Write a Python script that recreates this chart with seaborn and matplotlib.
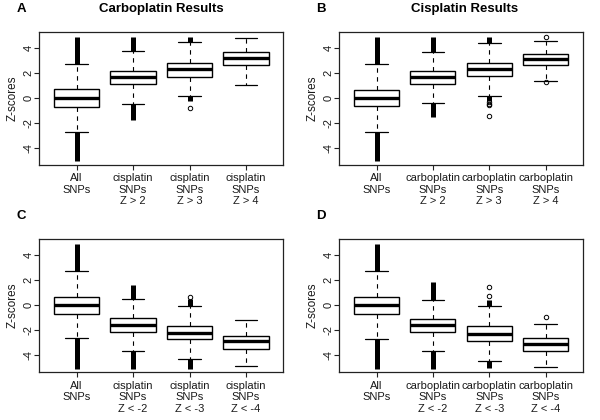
import numpy as np
import matplotlib
matplotlib.use("Agg")
import matplotlib.pyplot as plt
import seaborn as sns

# ---------------- data ----------------
labels_A = ["All\nSNPs", "cisplatin\nSNPs\nZ > 2", "cisplatin\nSNPs\nZ > 3", "cisplatin\nSNPs\nZ > 4"]
labels_B = ["All\nSNPs", "carboplatin\nSNPs\nZ > 2", "carboplatin\nSNPs\nZ > 3", "carboplatin\nSNPs\nZ > 4"]
labels_C = ["All\nSNPs", "cisplatin\nSNPs\nZ < -2", "cisplatin\nSNPs\nZ < -3", "cisplatin\nSNPs\nZ < -4"]
labels_D = ["All\nSNPs", "carboplatin\nSNPs\nZ < -2", "carboplatin\nSNPs\nZ < -3", "carboplatin\nSNPs\nZ < -4"]

q1_A = [-0.72, 1.07, 1.67, 2.58]
med_A = [0.00, 1.63, 2.26, 3.19]
q3_A = [0.67, 2.15, 2.79, 3.62]
wlo_A = [-2.71, -0.48, 0.11, 1.01]
whi_A = [2.66, 3.72, 4.46, 4.78]
dense_hi_A = [4.86, 4.86, 4.84, np.nan]
dense_lo_A = [-5.10, -1.78, -0.30, np.nan]
fliers_A = [[], [], [-0.85], []]

q1_B = [-0.67, 1.09, 1.73, 2.61]
med_B = [0.00, 1.63, 2.29, 3.07]
q3_B = [0.64, 2.10, 2.75, 3.47]
wlo_B = [-2.72, -0.45, 0.16, 1.33]
whi_B = [2.66, 3.68, 4.34, 4.56]
dense_hi_B = [4.86, 4.86, 4.85, np.nan]
dense_lo_B = [-5.10, -1.57, -0.25, np.nan]
fliers_B = [[], [], [-0.38, -0.50, -0.60, -1.50], [4.82, 1.25]]

q1_C = [-0.69, -2.14, -2.75, -3.47]
med_C = [0.00, -1.59, -2.22, -2.91]
q3_C = [0.66, -1.06, -1.67, -2.46]
wlo_C = [-2.67, -3.68, -4.32, -4.90]
whi_C = [2.70, 0.50, -0.11, -1.17]
dense_hi_C = [4.85, 1.59, 0.45, np.nan]
dense_lo_C = [-5.10, -5.10, -5.08, np.nan]
fliers_C = [[], [], [0.60], []]

q1_D = [-0.69, -2.15, -2.84, -3.67]
med_D = [0.00, -1.64, -2.28, -3.13]
q3_D = [0.64, -1.14, -1.72, -2.66]
wlo_D = [-2.71, -3.69, -4.46, -4.95]
whi_D = [2.69, 0.40, -0.10, -1.51]
dense_hi_D = [4.85, 1.80, 0.37, np.nan]
dense_lo_D = [-5.10, -5.10, -5.05, np.nan]
fliers_D = [[], [], [0.69, 1.43], [-0.93]]

yticks = [-4, -2, 0, 2, 4]
titles = {"A": "Carboplatin Results", "B": "Cisplatin Results", "C": "", "D": ""}

# ---------------- style ----------------
sns.set_theme(style="ticks")
plt.rcParams['font.family'] = ['Liberation Sans', 'DejaVu Sans']
plt.rcParams['axes.edgecolor'] = '#222222'
plt.rcParams['axes.linewidth'] = 0.9

fig = plt.figure(figsize=(6.0, 4.2), dpi=100)

panels = [
    ("A", labels_A, q1_A, med_A, q3_A, wlo_A, whi_A, dense_hi_A, dense_lo_A, fliers_A, [0.0655, 0.608, 0.4067, 0.315]),
    ("B", labels_B, q1_B, med_B, q3_B, wlo_B, whi_B, dense_hi_B, dense_lo_B, fliers_B, [0.5655, 0.608, 0.406, 0.315]),
    ("C", labels_C, q1_C, med_C, q3_C, wlo_C, whi_C, dense_hi_C, dense_lo_C, fliers_C, [0.0655, 0.1136, 0.4067, 0.317]),
    ("D", labels_D, q1_D, med_D, q3_D, wlo_D, whi_D, dense_hi_D, dense_lo_D, fliers_D, [0.5655, 0.1136, 0.406, 0.317]),
]

txt = '#1a1a1a'
for name, labs, q1, med, q3, wlo, whi, dhi, dlo, fl, rect in panels:
    ax = fig.add_axes(rect)
    pos = np.arange(1, len(labs) + 1)
    stats = [dict(q1=q1[i], med=med[i], q3=q3[i], whislo=wlo[i], whishi=whi[i], fliers=fl[i])
             for i in range(len(labs))]
    # dense outlier runs (many overlapping points)
    for i in range(len(labs)):
        if not np.isnan(dhi[i]):
            ax.vlines(pos[i], whi[i], dhi[i], color='black', lw=3.6, zorder=1.5)
        if not np.isnan(dlo[i]):
            ax.vlines(pos[i], dlo[i], wlo[i], color='black', lw=3.6, zorder=1.5)
    ax.bxp(stats, positions=pos, widths=0.8, capwidths=0.4, patch_artist=True,
           boxprops=dict(facecolor='white', edgecolor='black', linewidth=1.0),
           medianprops=dict(color='black', linewidth=2.4, solid_capstyle='butt'),
           whiskerprops=dict(color='black', linewidth=0.8, linestyle=(0, (4, 4))),
           capprops=dict(color='black', linewidth=0.9),
           flierprops=dict(marker='o', markerfacecolor='none', markeredgecolor='black',
                           markersize=3.2, markeredgewidth=0.7),
           showfliers=True)
    ax.set_xlim(0.34, 4.66)
    ax.set_ylim(-5.36, 5.22)
    ax.set_xticks(pos)
    ax.set_xticklabels(labs, fontsize=8, color=txt, linespacing=1.2)
    ax.set_yticks(yticks)
    ax.set_yticklabels([str(v) for v in yticks], fontsize=8, color=txt, rotation=90, va='center')
    ax.tick_params(axis='both', direction='out', length=3.6, width=0.8, color='#222222')
    ax.tick_params(axis='x', pad=2.5)
    ax.tick_params(axis='y', pad=0.3)
    for s in ax.spines.values():
        s.set_visible(True)
    x0 = rect[0]
    fig.text(x0 - 26.6 / 600, rect[1] + rect[3] / 2, "Z-scores", rotation=90,
             ha='center', va='center', fontsize=8.4, color=txt)
    # panel letters and titles
    ytop = rect[1] + rect[3]
    fig.text(x0 - 18.3 / 600, ytop + 23.5 / 420, name, fontsize=9.5, fontweight='bold',
             ha='center', va='center', color='black')
    if titles[name]:
        fig.text(x0 + rect[2] / 2 + (3 if name == "B" else 0) / 600, ytop + 23.5 / 420, titles[name],
                 fontsize=9.5, fontweight='bold', ha='center', va='center', color='black')

fig.savefig("out.png", dpi=100)
